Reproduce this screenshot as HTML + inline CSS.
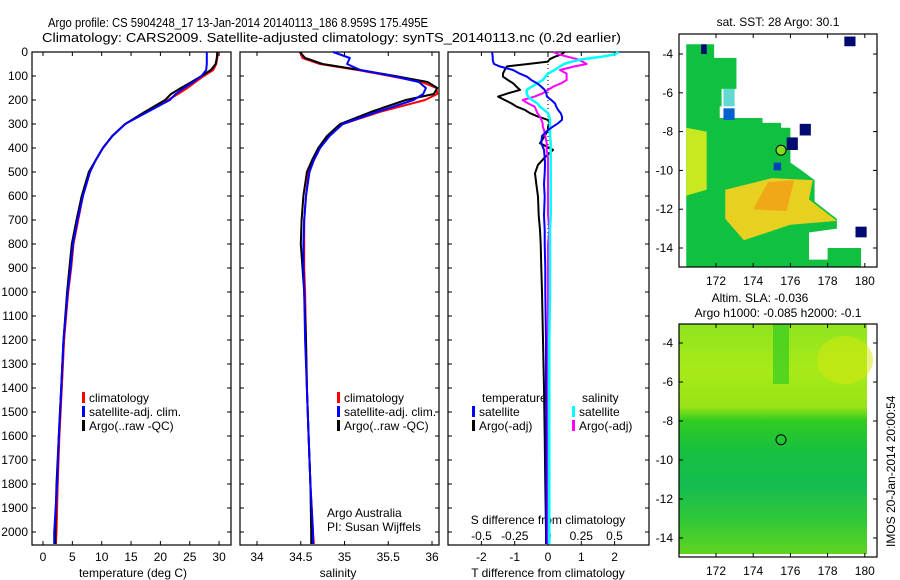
<!DOCTYPE html>
<html><head><meta charset="utf-8"><style>
body{margin:0;background:#fff}
svg{display:block;font-family:"Liberation Sans",sans-serif}
text{fill:#000}
</style></head><body>
<svg id="fig" width="900" height="580" viewBox="0 0 900 580" xmlns="http://www.w3.org/2000/svg">
<rect width="900" height="580" fill="#fff"/>
<text x="48" y="27" font-size="13" textLength="380" lengthAdjust="spacingAndGlyphs">Argo profile: CS 5904248_17 13-Jan-2014 20140113_186 8.959S 175.495E</text>
<text x="42" y="42" font-size="13" textLength="579" lengthAdjust="spacingAndGlyphs">Climatology: CARS2009. Satellite-adjusted climatology: synTS_20140113.nc (0.2d earlier)</text>
<g id="g"></g>
</svg>
<script>
// ---- data ----
const depths = [0,25,50,75,100,125,150,175,200,250,300,350,400,450,500,600,700,800,900,1000,1200,1400,1600,1800,2000,2050];
const tempClim = [29.8,29.7,29.5,29.0,27.4,26.0,24.6,23.0,21.3,17.5,14.0,11.8,10.2,9.0,8.0,6.8,6.0,5.2,4.8,4.3,3.6,3.2,2.8,2.5,2.3,2.2];
const tempSat  = [27.9,27.9,27.9,27.8,27.0,25.6,24.0,22.6,21.6,17.8,14.0,11.8,10.2,9.0,8.0,6.8,5.9,5.1,4.7,4.2,3.5,3.1,2.7,2.4,1.9,1.9];
const tempArgo = [29.7,29.6,29.4,28.6,27.0,25.3,23.5,21.8,20.8,17.3,14.0,11.8,10.2,9.0,7.8,6.6,5.7,4.9,4.5,4.1,3.5,3.1,2.7,2.3,2.1,2.1];
const salClim = [34.49,34.52,34.72,35.15,35.52,35.88,36.05,36.06,35.92,35.40,34.98,34.82,34.72,34.65,34.59,34.56,34.54,34.54,34.54,34.55,34.56,34.57,34.59,34.61,34.64,34.65];
const salSat  = [34.87,35.06,35.03,35.18,35.55,35.85,35.93,35.90,35.79,35.37,34.98,34.83,34.72,34.65,34.60,34.56,34.54,34.53,34.53,34.54,34.55,34.57,34.59,34.61,34.64,34.64];
const salArgo = [34.49,34.55,34.75,35.18,35.58,35.95,36.06,36.02,35.70,35.30,34.95,34.80,34.70,34.63,34.57,34.53,34.51,34.50,34.52,34.54,34.56,34.57,34.59,34.61,34.62,34.62];
const diffDepths = [0,10,20,30,40,50,60,75,90,103,117,130,144,158,172,186,200,214,228,241,255,269,283,297,311,325,350,380,408,440,470,505,550,603,680,742,800,900,1000,1200,1400,1600,1800,2000,2050];
const tSatDiff  = [-1.68,-1.67,-1.66,-1.66,-1.65,-1.62,-1.45,-1.05,-0.85,-0.63,-0.5,-0.33,-0.2,-0.1,-0.05,-0.03,0.1,0.21,0.25,0.3,0.38,0.42,0.42,0.3,0.15,0.0,-0.18,-0.2,-0.12,-0.1,-0.09,-0.1,-0.12,-0.1,-0.12,-0.1,-0.1,-0.08,-0.08,-0.06,-0.06,-0.05,-0.05,-0.05,-0.05];
const tArgoDiff = [0.5,0.4,0.2,0.05,0.0,-0.6,-1.23,-1.3,-1.35,-1.35,-1.2,-1.05,-0.95,-0.84,-1.2,-1.5,-1.3,-1.1,-0.94,-0.7,-0.54,-0.3,0.0,0.05,0.0,0.0,-0.1,-0.24,0.15,-0.1,-0.3,-0.39,-0.35,-0.3,-0.28,-0.24,-0.22,-0.2,-0.18,-0.15,-0.12,-0.1,-0.08,-0.06,-0.06];
const sSatDiff  = [0.53,0.5,0.4,0.26,0.18,0.12,0.09,0.05,0.0,-0.02,-0.04,-0.08,-0.12,-0.16,-0.16,-0.15,-0.12,-0.08,-0.06,-0.03,0.0,0.01,0.015,0.015,0.015,0.015,0.015,0.02,0.02,0.02,0.02,0.02,0.02,0.02,0.02,0.015,0.015,0.015,0.015,0.01,0.01,0.01,0.01,0.01,0.01];
const sArgoDiff = [0.04,0.08,0.15,0.22,0.26,0.29,0.2,0.09,0.14,0.14,0.14,0.1,0.04,0.0,-0.04,-0.1,-0.19,-0.15,-0.1,-0.09,-0.08,-0.06,-0.05,-0.04,-0.04,-0.03,-0.02,-0.01,-0.01,0.0,0.0,0.0,0.0,0.0,0.0,0.01,0.0,0.0,0.0,0.0,0.0,0.0,0.0,0.0,0.0];
const depthTicks = [0,100,200,300,400,500,600,700,800,900,1000,1100,1200,1300,1400,1500,1600,1700,1800,1900,2000];
const tempTicks = [0,5,10,15,20,25,30];
const salTicks = [34,34.5,35,35.5,36];
const tDiffTicks = [-2,-1,0,1,2];
const sDiffTicks = [-0.5,-0.25,0,0.25,0.5];
const sDiffLabels = ["-0.5","-0.25","0","0.25","0.5"];
const lonTicks = [172,174,176,178,180];
const latTicks = [-4,-6,-8,-10,-12,-14];
const sstArgo = 30.1, sstSat = 28;

// ---- axes ----
const NS="http://www.w3.org/2000/svg";
const G=document.getElementById('g');
function el(t,a,p){const e=document.createElementNS(NS,t);for(const k in a)e.setAttribute(k,a[k]);(p||G).appendChild(e);return e;}
function txt(x,y,s,fs,anchor,name){const e=el('text',{x:x,y:y,'font-size':fs||12,'text-anchor':anchor||'start'});e.textContent=s;


return e;}
const yD = d => 52 + 0.24*d;
const xT = t => 43 + 5.87*t;
const xS = s => 257 + 87.5*(s-34);
const xTd = v => 548 + 33.3*v;
const xSd = v => 548 + 133*v;
const PB=545;
function frame(x0,x1,name){const r=el('rect',{x:x0,y:52,width:x1-x0,height:PB-52,fill:'none',stroke:'#000','stroke-width':1.2});


depthTicks.forEach(d=>{el('line',{x1:x0,x2:x0+4,y1:yD(d),y2:yD(d),stroke:'#000'});el('line',{x1:x1-4,x2:x1,y1:yD(d),y2:yD(d),stroke:'#000'});});}
frame(32,231,'temperature-panel');frame(240,439,'salinity-panel');frame(448,649,'difference-panel');
depthTicks.forEach(d=>txt(28,yD(d)+4,String(d),12,'end','depth-tick-label'));
function xticks(vals,f,labels,ly){vals.forEach((v,i)=>{const x=f(v);el('line',{x1:x,x2:x,y1:PB,y2:PB-4,stroke:'#000'});el('line',{x1:x,x2:x,y1:52,y2:56,stroke:'#000'});if(labels)txt(x,ly,labels[i],12,'middle','x-tick-label');});}
xticks(tempTicks,xT,tempTicks.map(String),561);
xticks(salTicks,xS,salTicks.map(String),561);
xticks(tDiffTicks,xTd,tDiffTicks.map(String),561);
sDiffTicks.forEach((v,i)=>txt(xSd(v),540,sDiffLabels[i],12,'middle','s-diff-tick-label'));
txt(133,577,'temperature (deg C)',12,'middle','x-axis-title-temperature');
txt(338,577,'salinity',12,'middle','x-axis-title-salinity');
txt(548,577,'T difference from climatology',12,'middle','x-axis-title-t-diff');
txt(548,524,'S difference from climatology',12,'middle','x-axis-title-s-diff');
const zl=el('line',{x1:548,x2:548,y1:52,y2:PB,stroke:'#000','stroke-dasharray':'1,3'});



function series(xs,ds,fx,color,name,w){const p=xs.map((v,i)=>fx(v).toFixed(1)+','+yD(ds[i]).toFixed(1)).join(' ');
const e=el('polyline',{points:p,fill:'none',stroke:color,'stroke-width':w||2,'stroke-linejoin':'round'});

}
series(tempClim,depths,xT,'#f00','temp-climatology-line');
series(tempArgo,depths,xT,'#000','temp-argo-line');
series(tempSat,depths,xT,'#00f','temp-satellite-line');
series(salClim,depths,xS,'#f00','sal-climatology-line');
series(salArgo,depths,xS,'#000','sal-argo-line');
series(salSat,depths,xS,'#00f','sal-satellite-line');
series(tArgoDiff,diffDepths,xTd,'#000','t-argo-diff-line');
series(sArgoDiff,diffDepths,xSd,'#f0f','s-argo-diff-line');
series(sSatDiff,diffDepths,xSd,'#0ff','s-satellite-diff-line',2.5);
series(tSatDiff,diffDepths,xTd,'#00f','t-satellite-diff-line');

function leg(x,y,c,s,name){const m=el('rect',{x:x,y:y-10,width:3,height:11,fill:c});


txt(x+7,y,s,12,'start',name);}
[[0,'#f00','climatology'],[1,'#00f','satellite-adj. clim.'],[2,'#000','Argo(..raw -QC)']].forEach(r=>{leg(82,402+r[0]*14,r[1],r[2],'legend-temp-'+r[0]);leg(337,402+r[0]*14,r[1],r[2],'legend-sal-'+r[0]);});
txt(482,402,'temperature',12,'start','legend-temperature-header');
txt(582,402,'salinity',12,'start','legend-salinity-header');
leg(472,416,'#00f','satellite','legend-t-satellite');leg(472,430,'#000','Argo(-adj)','legend-t-argo');
leg(572,416,'#0ff','satellite','legend-s-satellite');leg(572,430,'#f0f','Argo(-adj)','legend-s-argo');
txt(327,517,'Argo Australia',12,'start','credit-line-1');
txt(327,531,'PI: Susan Wijffels',12,'start','credit-line-2');

// ---- maps ----
const mx=lon=>716+18.6*(lon-172);
const my1=lat=>54+19.4*(-4-lat);
const poly=[[170.4,-3.5],[171.9,-3.5],[171.9,-4.2],[173.1,-4.2],[173.1,-5.8],[172.3,-5.8],[172.3,-6.7],[172.2,-6.7],[172.2,-7.3],[174.5,-7.3],[174.5,-7.55],[175.5,-7.55],[175.5,-7.8],[176,-7.8],[176,-9.6],[176.6,-10],[177.3,-10.5],[177.3,-11.6],[178.5,-12.5],[178.5,-13],[177,-13.2],[177,-14.6],[178,-14.6],[178,-14],[179.8,-14],[179.8,-15],[170.4,-15]];
const m1=el('g',{});
el('polygon',{points:poly.map(p=>mx(p[0])+','+my1(p[1])).join(' '),fill:'#10c040'},m1);
el('polygon',{points:[[170.4,-7.8],[171.5,-8],[171.5,-11],[170.4,-11.3]].map(p=>mx(p[0])+','+my1(p[1])).join(' '),fill:'#c8e820'},m1);
el('polygon',{points:[[172.5,-11],[175,-10.4],[177.2,-10.5],[177,-11.5],[178.5,-12.6],[176,-12.8],[173.5,-13.6],[172.5,-12.5]].map(p=>mx(p[0])+','+my1(p[1])).join(' '),fill:'#e8d020'},m1);
el('polygon',{points:[[174.8,-10.6],[176.2,-10.5],[175.8,-12.1],[174,-12]].map(p=>mx(p[0])+','+my1(p[1])).join(' '),fill:'#f0a818'},m1);
el('polygon',{points:[[172.4,-5.8],[173,-5.8],[173,-6.7],[172.4,-6.7]].map(p=>mx(p[0])+','+my1(p[1])).join(' '),fill:'#20c8c0',opacity:0.7},m1);
[[175.8,-8.3,0.6,0.65,'#000a70'],[176.5,-7.6,0.6,0.6,'#000a70'],[178.9,-3.1,0.6,0.5,'#000a70'],[179.5,-12.9,0.6,0.55,'#000a70'],[172.4,-6.8,0.6,0.6,'#0060d0'],[171.2,-3.5,0.3,0.5,'#000a70'],[175.1,-9.6,0.4,0.4,'#0040c0']].forEach(r=>el('rect',{x:mx(r[0]),y:my1(r[1]),width:r[2]*18.6,height:r[3]*19.4,fill:r[4]},m1));
const c1=el('circle',{cx:mx(175.495),cy:my1(-8.959),r:5,fill:'#80e020',stroke:'#000'},m1);

el('rect',{x:679,y:34,width:198,height:233,fill:'none',stroke:'#000','stroke-width':1.2});
latTicks.forEach(l=>{const y=my1(l);el('line',{x1:679,x2:683,y1:y,y2:y,stroke:'#000'});el('line',{x1:873,x2:877,y1:y,y2:y,stroke:'#000'});txt(673,y+4,String(l),12,'end','map1-lat-label');});
lonTicks.forEach(l=>{const x=mx(l);el('line',{x1:x,x2:x,y1:267,y2:263,stroke:'#000'});el('line',{x1:x,x2:x,y1:34,y2:38,stroke:'#000'});txt(x,285,String(l),12,'middle','map1-lon-label');});
txt(778,26,'sat. SST: '+sstSat+' Argo: '+sstArgo,12,'middle','sst-map-title');
// map 2
const my2=lat=>382+19.5*(-6-lat);
const m2=el('g',{});
const defs=el('defs',{});
const lg=el('linearGradient',{id:'sla',x1:0,y1:0,x2:0,y2:1},defs);
[[0,'#90e420'],[0.2,'#a8ea18'],[0.36,'#98e418'],[0.42,'#30cc20'],[0.55,'#18c040'],[0.7,'#14bc50'],[0.85,'#30c838'],[1,'#60d420']].forEach(s=>el('stop',{offset:s[0],'stop-color':s[1]},lg));
el('rect',{x:679,y:324,width:188,height:230,fill:'url(#sla)'},m2);
el('rect',{x:773,y:324,width:16,height:60,fill:'#40d020',opacity:0.8},m2);
el('ellipse',{cx:845,cy:360,rx:28,ry:24,fill:'#d8e810',opacity:0.5},m2);
const c2=el('circle',{cx:mx(175.495),cy:my2(-8.959),r:5,fill:'none',stroke:'#000'},m2);

el('rect',{x:679,y:324,width:198,height:233,fill:'none',stroke:'#000','stroke-width':1.2});
latTicks.forEach(l=>{const y=my2(l);el('line',{x1:679,x2:683,y1:y,y2:y,stroke:'#000'});el('line',{x1:873,x2:877,y1:y,y2:y,stroke:'#000'});txt(673,y+4,String(l),12,'end','map2-lat-label');});
lonTicks.forEach(l=>{const x=mx(l);el('line',{x1:x,x2:x,y1:557,y2:553,stroke:'#000'});el('line',{x1:x,x2:x,y1:324,y2:328,stroke:'#000'});txt(x,575,String(l),12,'middle','map2-lon-label');});
txt(760,302,'Altim. SLA: -0.036',12,'middle','sla-map-title');
txt(778,317,'Argo h1000: -0.085 h2000: -0.1',12,'middle','sla-map-subtitle');
const im=txt(0,0,'IMOS 20-Jan-2014 20:00:54',12,'start','imos-timestamp');
im.setAttribute('transform','translate(895,547) rotate(-90)');
</script>
</body></html>
